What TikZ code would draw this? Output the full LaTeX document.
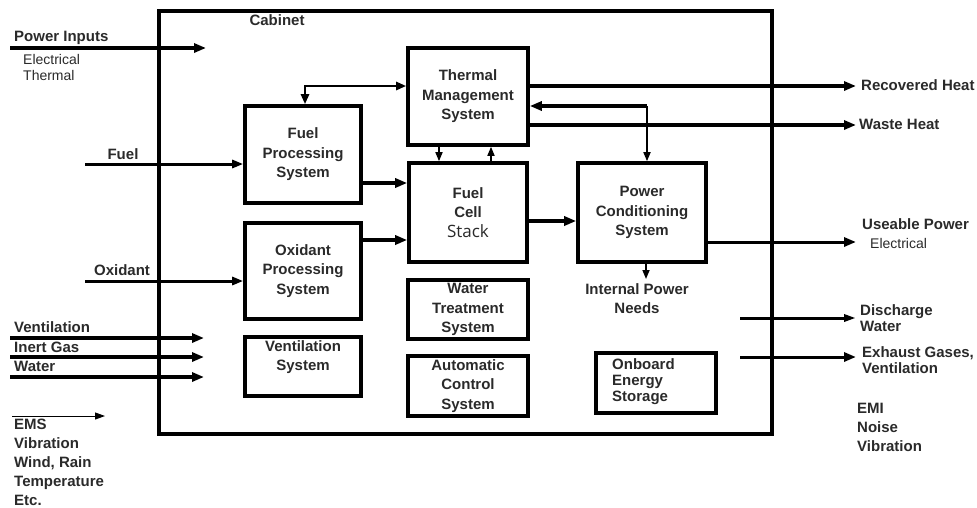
\documentclass[tikz,border=0pt]{standalone}
\usepackage{fontspec}
\setmainfont{Liberation Sans}
\newfontfamily\stackfont{Open Sans}
\usetikzlibrary{arrows.meta}
\definecolor{txt}{HTML}{2A2A2A}
\begin{document}
\begin{tikzpicture}[x=1pt,y=-1pt,
  box/.style={draw, line width=3.6pt, inner sep=0pt, align=center,
    font=\fontsize{15}{19.5}\selectfont\bfseries, text=txt},
  lbl/.style={inner sep=0pt, align=center, text=txt,
    font=\fontsize{15}{19}\selectfont\bfseries},
  lbll/.style={lbl, anchor=west, align=left},
  sub/.style={inner sep=0pt, anchor=west, align=left, text=txt,
    font=\fontsize{14}{16}\selectfont},
  bigarr/.style={line width=3.6pt, -{Triangle[length=12pt,width=9pt]}},
  midarr/.style={line width=2.6pt, -{Triangle[length=10pt,width=8pt]}},
  thinarr/.style={line width=1.6pt, -{Triangle[length=9pt,width=7pt]}},
]
\useasboundingbox (0,0) rectangle (977,507);

% cabinet
\draw[line width=3.8pt] (159,11) rectangle (772,434);
\node[lbl] (cab) at (277,20) {Cabinet};

% boxes
\node[box, minimum width=116pt, minimum height=97pt] (fps) at (303,154.5) {Fuel\\Processing\\System};
\node[box, minimum width=116pt, minimum height=96pt] (ops) at (303,271) {Oxidant\\Processing\\System};
\node[box, minimum width=116pt, minimum height=59pt] (vs) at (303,366.5) {};
\node[lbl] (vst) at (303,357) {Ventilation\\System};
\node[box, minimum width=120pt, minimum height=97pt] (tms) at (468,96.5) {Thermal\\Management\\System};
\node[box, minimum width=118pt, minimum height=99pt] (fcs) at (468,212.5) {Fuel\\Cell\\{\stackfont\mdseries\fontsize{17}{19}\selectfont Stack}};
\node[box, minimum width=128pt, minimum height=99pt] (pcs) at (642,212.5) {Power\\Conditioning\\System};
\node[box, minimum width=120pt, minimum height=59pt] (wts) at (468,309.5) {Water\\Treatment\\System};
\node[box, minimum width=120pt, minimum height=60pt] (acs) at (468,386) {Automatic\\Control\\System};
\node[box, minimum width=120pt, minimum height=60pt] (oes) at (656,383) {};
\node[lbll, font=\fontsize{15}{16}\selectfont\bfseries] (oest) at (612,382) {Onboard\\Energy\\Storage};

% left inputs
\coordinate (pin) at (10,48);   \coordinate (pine) at (206,48);
\draw[bigarr] (pin) -- (pine);
\node[lbll] (pinl) at (14,38) {Power Inputs};
\node[sub] (pins) at (23,67) {Electrical\\Thermal};

\coordinate (fin) at (85,164);
\draw[line width=3pt, -{Triangle[length=11pt,width=8pt]}] (fin) -- (fps.west |- fin);
\node[lbl] (finl) at (123,154) {Fuel};

\coordinate (oin) at (85,281);
\draw[line width=3pt, -{Triangle[length=11pt,width=8pt]}] (oin) -- (ops.west |- oin);
\node[lbl] (oinl) at (122,270) {Oxidant};

\coordinate (v1) at (10,338); \coordinate (v1e) at (204,338);
\coordinate (v2) at (10,357); \coordinate (v2e) at (204,357);
\coordinate (v3) at (10,377); \coordinate (v3e) at (204,377);
\draw[bigarr] (v1) -- (v1e);
\draw[bigarr] (v2) -- (v2e);
\draw[bigarr] (v3) -- (v3e);
\node[lbll] (v1l) at (14,327) {Ventilation};
\node[lbll] (v2l) at (14,347) {Inert Gas};
\node[lbll] (v3l) at (14,366) {Water};

\coordinate (ems) at (12,416); \coordinate (emse) at (105,416);
\draw[line width=1pt, -{Triangle[length=10pt,width=7pt]}] (ems) -- (emse);
\node[lbll] (emsl) at (14,462) {EMS\\Vibration\\Wind, Rain\\Temperature\\Etc.};

% internal connectors
\coordinate (tl) at (305,86);
\draw[midarr, {Triangle[length=10pt,width=8pt]}-{Triangle[length=10pt,width=8pt]}] (fps.north -| tl) -- (tl) -- (tms.west |- tl);
\draw[bigarr] (fps.east |- 0,183) -- (fcs.west |- 0,183);
\draw[bigarr] (ops.east |- 0,240) -- (fcs.west |- 0,240);
\draw[thinarr] (tms.south -| 439,0) -- (fcs.north -| 439,0);
\draw[thinarr] (fcs.north -| 491,0) -- (tms.south -| 491,0);
\draw[bigarr] (fcs.east |- 0,221) -- (pcs.west |- 0,221);
\coordinate (pt) at (647,106);
\draw[line width=3.6pt, {Triangle[length=12pt,width=9pt]}-] (tms.east |- pt) -- (pt);
\draw[thinarr] (pt) -- (pcs.north -| pt);
\coordinate (ipn) at (646,279);
\draw[thinarr] (pcs.south -| ipn) -- (ipn);
\node[lbl] (ipnl) at (637,299) {Internal Power\\Needs};

% outputs
\coordinate (rh) at (856,86);
\draw[bigarr] (tms.east |- rh) -- (rh);
\node[lbll] (rhl) at (861,85) {Recovered Heat};
\coordinate (wh) at (856,125);
\draw[bigarr] (tms.east |- wh) -- (wh);
\node[lbll] (whl) at (859,124) {Waste Heat};
\coordinate (up) at (856,242);
\draw[line width=3pt, -{Triangle[length=12pt,width=9pt]}] (pcs.east |- up) -- (up);
\node[lbll] (upl) at (862,224) {Useable Power};
\node[sub] (ups) at (870,243) {Electrical};
\coordinate (dw) at (740,318); \coordinate (dwe) at (856,318);
\draw[line width=3pt, -{Triangle[length=12pt,width=7pt]}] (dw) -- (dwe);
\node[lbll, font=\fontsize{15}{16}\selectfont\bfseries] (dwl) at (860,318) {Discharge\\Water};
\coordinate (eg) at (740,357); \coordinate (ege) at (856,357);
\draw[line width=3pt, -{Triangle[length=12pt,width=9pt]}] (eg) -- (ege);
\node[lbll, font=\fontsize{15}{16}\selectfont\bfseries] (egl) at (862,360) {Exhaust Gases,\\Ventilation};
\node[lbll] (emil) at (857,427) {EMI\\Noise\\Vibration};
\end{tikzpicture}
\end{document}
